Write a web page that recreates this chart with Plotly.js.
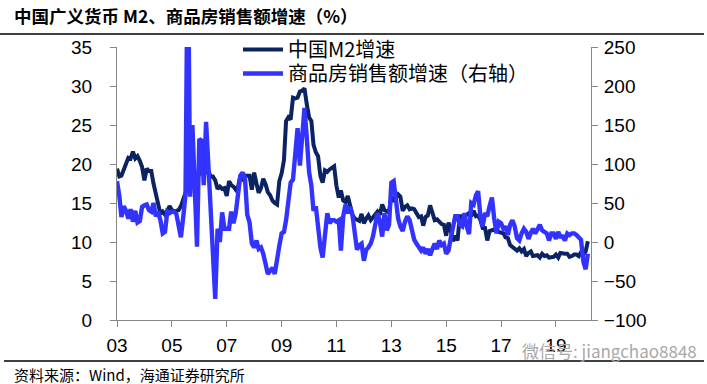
<!DOCTYPE html>
<html>
<head>
<meta charset="utf-8">
<script src="https://cdn.plot.ly/plotly-3.0.1.min.js"></script>
<style>html,body{margin:0;padding:0;background:#fff;}#chart{width:707px;height:384px;}</style>
</head>
<body>
<div id="chart"></div>
<script>
// ---- data (monthly, 2003-01 .. 2020-03) ----
const startYear = 2003, startMonth = 1;
const m2Growth = [
  19.4, 18.4, 18.5, 19.2, 20.2, 20.8, 20.7, 21.6, 20.7, 21.0, 20.4, 19.6,
  17.9, 19.4, 19.1, 19.1, 17.5, 16.2, 15.3, 13.6, 13.9, 13.5, 14.0, 14.6,
  14.1, 13.9, 14.0, 14.1, 14.6, 15.7, 16.3, 17.3, 17.9, 18.0, 18.3, 17.6,
  19.2, 18.8, 18.8, 18.9, 19.1, 18.4, 18.4, 17.9, 16.8, 17.1, 16.8, 16.9,
  15.9, 17.8, 17.3, 17.1, 16.7, 17.1, 18.5, 18.1, 18.5, 18.5, 18.5, 16.7,
  18.9, 17.5, 16.3, 16.9, 18.1, 17.4, 16.4, 16.0, 15.3, 15.0, 14.8, 17.8,
  18.8, 20.5, 25.5, 26.0, 25.7, 28.5, 28.4, 28.5, 29.3, 29.4, 29.7, 27.7,
  26.0, 25.5, 22.5, 21.5, 21.0, 18.5, 17.6, 19.2, 19.0, 19.3, 19.5, 19.7,
  17.2, 15.7, 16.6, 15.3, 15.1, 15.9, 14.7, 13.5, 13.0, 12.9, 12.7, 13.6,
  12.4, 13.0, 13.4, 12.8, 13.2, 13.6, 13.9, 13.5, 14.8, 14.1, 13.9, 13.8,
  15.9, 15.2, 15.7, 16.1, 15.8, 14.0, 14.5, 14.7, 14.2, 14.3, 14.2, 13.6,
  13.2, 13.3, 12.1, 13.2, 13.4, 14.7, 13.5, 12.8, 12.9, 12.6, 12.3, 12.2,
  10.8, 12.5, 11.6, 10.1, 10.8, 10.2, 13.3, 13.3, 13.1, 13.5, 13.7, 13.3,
  14.0, 13.3, 13.4, 12.8, 11.8, 11.8, 10.2, 11.4, 11.5, 11.6, 11.4, 11.3,
  11.3, 11.1, 10.6, 10.5, 9.6, 9.4, 9.2, 8.9, 9.2, 8.8, 9.1, 8.2,
  8.6, 8.8, 8.2, 8.3, 8.3, 8.0, 8.5, 8.2, 8.3, 8.0, 8.0, 8.1,
  8.4, 8.0, 8.6, 8.5, 8.5, 8.5, 8.1, 8.2, 8.4, 8.4, 8.2, 8.7,
  8.4, 8.8, 10.1
];
const salesGrowth = [
  78, 59, 32, 46, 40, 30, 42, 26, 40, 25, 27, 45,
  47, 48, 41, 39, 50, 33, 39, 28, 11, 13, 39, 37,
  39, 39, 36, 20, 6, 32, 60, 400, 58, 150, 60, -6,
  132, 130, 73, 154, 100, 40, -20, -73, 17, 0, 38, 17,
  17, 17, 39, 24, 37, 60, 85, 89, 82, 35, 25, -2,
  -7, 2, -9, -7, -15, -28, -41, -37, -33, -41, -20, -5,
  11, 13, 28, 50, 76, 80, 111, 146, 98, 140, 172, 135,
  90, 72, 40, 46, 20, -7, -20, 15, 37, 24, 28, 28,
  26, 28, -11, 33, 48, 37, 45, 35, 5, -10, -4, -2,
  -24, -10, -7, -2, 7, 20, 37, 26, 7, 37, 15, 22,
  76, 78, 50, 30, 20, 14, 26, 33, 28, 17, 3, -2,
  -7, -11, -7, -15, -9, -17, -9, -2, -9, 2, -4, -2,
  -15, -11, 4, 20, 33, 33, 22, 20, 37, 20, 10, 50,
  48, 60, 65, 33, 20, 37, 33, 46, 57, 30, 11, 26,
  24, 17, 20, 9, 22, 28, 20, 5, 2, 11, 17, 13,
  4, 12, 17, 11, 18, 22, 15, 13, 11, 2, 11, 11,
  4, 13, 7, 7, 2, 11, 9, 11, 11, 9, 5, 3,
  -25, -35, -15
];
const tickYears = ['2003','2005','2007','2009','2011','2013','2015','2017','2019'];
const tickLabels = ['03','05','07','09','11','13','15','17','19'];
const seriesNames = ['中国M2增速', '商品房销售额增速（右轴）'];
const titleText = '中国广义货币 M2、商品房销售额增速（%）';
const sourceText = '资料来源：Wind，海通证券研究所';
const watermarkText = '微信号: jiangchao8848';

// month labels
const dates = [];
for (let i = 0; i < m2Growth.length; i++) {
  const y = startYear + Math.floor((startMonth - 1 + i) / 12);
  const m = (startMonth - 1 + i) % 12 + 1;
  dates.push(y + '-' + String(m).padStart(2, '0') + '-01');
}

// ---- layout geometry (pixels) ----
const W = 707, H = 384;
const L = 117, R = 116, T = 47, B = 64;
const PW = W - L - R, PH = H - T - B;
const xp = px => (px - L) / PW;
const yp = py => (H - B - py) / PH;

const axisGray = '#868686';
const tickFont = {family: 'Liberation Sans, Arial, sans-serif', size: 19, color: '#000'};
const cjk = 'Noto Sans CJK SC, sans-serif';
const legendBase = {
  xref: 'paper', yref: 'paper', xanchor: 'left', yanchor: 'top',
  bgcolor: 'rgba(0,0,0,0)', borderwidth: 0,
  font: {family: cjk, size: 20, color: '#000'},
  itemwidth: 40
};

const traces = [
  {
    x: dates, y: salesGrowth, yaxis: 'y2', type: 'scatter', mode: 'lines',
    name: seriesNames[1], legend: 'legend2',
    line: {color: '#3333FF', width: 4.4}
  },
  {
    x: dates, y: m2Growth, yaxis: 'y', type: 'scatter', mode: 'lines',
    name: seriesNames[0], legend: 'legend',
    line: {color: '#0B2360', width: 4}
  }
];

const layout = {
  width: W, height: H,
  margin: {l: L, r: R, t: T, b: B, pad: 0, autoexpand: false},
  paper_bgcolor: '#fff', plot_bgcolor: '#fff',
  showlegend: true,
  title: {
    text: '<b>' + titleText + '</b>',
    font: {family: cjk, size: 17.5, color: '#000'},
    xref: 'container', yref: 'container',
    x: 14 / W, xanchor: 'left', y: 1 - 17 / H, yanchor: 'middle',
    automargin: false
  },
  legend: Object.assign({}, legendBase, {x: xp(238), y: yp(30)}),
  legend2: Object.assign({}, legendBase, {x: xp(238), y: yp(54)}),
  xaxis: {
    type: 'date',
    range: ['2003-01-01', '2020-04-12'],
    tickmode: 'array',
    tickvals: tickYears.map(y => y + '-01-01'),
    ticktext: tickLabels,
    ticks: 'outside', ticklen: 6, tickcolor: axisGray, tickwidth: 1,
    showline: true, linecolor: axisGray, linewidth: 1,
    showgrid: false, zeroline: false,
    tickfont: tickFont, ticklabelstandoff: 2,
    automargin: false
  },
  yaxis: {
    range: [0, 35], dtick: 5, tick0: 0,
    ticks: 'outside', ticklen: 6, tickcolor: axisGray, tickwidth: 1,
    showline: true, linecolor: axisGray, linewidth: 1,
    showgrid: false, zeroline: false,
    tickfont: tickFont, ticklabelstandoff: 14,
    automargin: false
  },
  yaxis2: {
    range: [-100, 250], dtick: 50, tick0: 0,
    overlaying: 'y', side: 'right',
    ticks: 'outside', ticklen: 6, tickcolor: axisGray, tickwidth: 1,
    showline: true, linecolor: axisGray, linewidth: 1,
    showgrid: false, zeroline: false,
    tickfont: tickFont, ticklabelstandoff: 2,
    automargin: false
  },
  shapes: [
    {type: 'line', xref: 'paper', yref: 'paper', x0: xp(0), x1: xp(704), y0: yp(34), y1: yp(34),
     line: {color: '#000', width: 1.5}},
    {type: 'line', xref: 'paper', yref: 'paper', x0: xp(4), x1: xp(704), y0: yp(361), y1: yp(361),
     line: {color: '#000', width: 1.5}}
  ],
  annotations: [
    {text: sourceText, xref: 'paper', yref: 'paper', x: xp(12), y: yp(374.5),
     xanchor: 'left', yanchor: 'middle', showarrow: false,
     font: {family: cjk, size: 15, color: '#000'}},
    {text: watermarkText, xref: 'paper', yref: 'paper', x: xp(520), y: yp(350),
     xanchor: 'left', yanchor: 'middle', showarrow: false,
     font: {family: cjk, size: 17, color: '#a8a8a8'}}
  ]
};

Plotly.newPlot('chart', traces, layout, {staticPlot: true, displayModeBar: false});
</script>
</body>
</html>
